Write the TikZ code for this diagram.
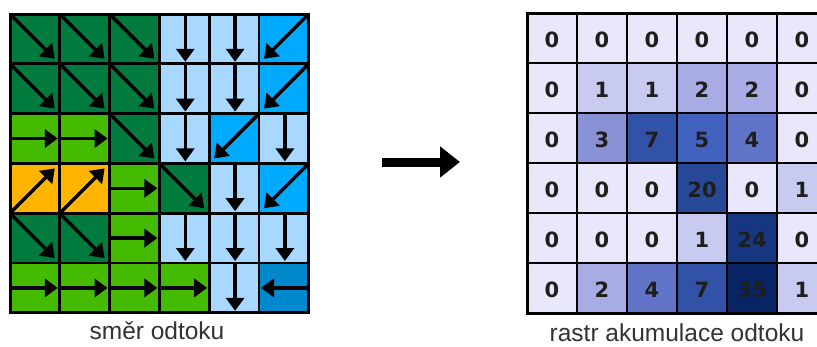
\documentclass[tikz,border=0pt]{standalone}
\usepackage{fontspec}
\usetikzlibrary{arrows.meta}
\newfontfamily\numfont{DejaVu Sans Bold}
\newfontfamily\capfont{Liberation Sans}
% flow direction classes
\definecolor{dg}{RGB}{0,122,61}
\definecolor{lg}{RGB}{68,187,0}
\definecolor{org}{RGB}{255,180,0}
\definecolor{lb}{RGB}{168,216,255}
\definecolor{mb}{RGB}{0,170,255}
\definecolor{db}{RGB}{0,136,204}
% accumulation shades
\definecolor{v0}{RGB}{232,232,250}
\definecolor{v1}{RGB}{200,202,240}
\definecolor{v2}{RGB}{168,172,228}
\definecolor{v3}{RGB}{138,146,214}
\definecolor{v4}{RGB}{98,116,200}
\definecolor{v5}{RGB}{66,98,192}
\definecolor{v7}{RGB}{50,82,168}
\definecolor{v20}{RGB}{40,72,152}
\definecolor{v24}{RGB}{22,54,128}
\definecolor{v35}{RGB}{8,36,100}
\definecolor{captext}{RGB}{52,50,50}
\definecolor{numtext}{RGB}{30,30,30}
% arrows drawn inside a flow-direction cell at (\xa,\ya)
\newcommand\flowSE{\draw[flow] (\xa+1,\ya+1) -- (\xa+\s-5,\ya+\s-5);}
\newcommand\flowSW{\draw[flow] (\xa+\s-1,\ya+1) -- (\xa+5,\ya+\s-5);}
\newcommand\flowNE{\draw[flow] (\xa+1,\ya+\s-1) -- (\xa+\s-5,\ya+5);}
\newcommand\flowS{\draw[flow] (\xa+\s/2+1,\ya) -- (\xa+\s/2+1,\ya+\s-2);}
\newcommand\flowE{\draw[flow] (\xa,\ya+\s/2) -- (\xa+\s-2,\ya+\s/2);}
\newcommand\flowW{\draw[flow] (\xa+\s,\ya+\s/2) -- (\xa+2,\ya+\s/2);}
\begin{document}
\begin{tikzpicture}[x=1pt,y=-1pt,
  cellL/.style={draw=black,line width=2.8pt,minimum size=49.8pt,inner sep=0pt,outer sep=0pt},
  cellR/.style={draw=black,line width=2.8pt,minimum size=50pt,inner sep=0pt,outer sep=0pt},
  numlabel/.style={font=\numfont\fontsize{21}{21}\selectfont,text=numtext,inner sep=0pt},
  flow/.style={line width=3.4pt,-{Triangle[length=13pt,width=18pt]}},
  bigarrow/.style={line width=9pt,-{Triangle[length=20pt,width=30pt]}},
  captionlabel/.style={font=\capfont\fontsize{24.5}{26}\selectfont,text=captext,inner sep=0pt}]
\useasboundingbox (0,0) rectangle (817,346);
\fill[white] (0,0) rectangle (817,346);

% flow direction raster
\def\s{49.8}
\foreach \rowlist [count=\r from 0] in {
  {dg/SE,dg/SE,dg/SE,lb/S,lb/S,mb/SW},
  {dg/SE,dg/SE,dg/SE,lb/S,lb/S,mb/SW},
  {lg/E,lg/E,dg/SE,lb/S,mb/SW,lb/S},
  {org/NE,org/NE,lg/E,dg/SE,lb/S,mb/SW},
  {dg/SE,dg/SE,lg/E,lb/S,lb/S,lb/S},
  {lg/E,lg/E,lg/E,lg/E,lb/S,db/W}}{
  \foreach \cl/\dir [count=\c from 0] in \rowlist {
    \pgfmathsetmacro\xa{10+\c*\s}
    \pgfmathsetmacro\ya{14+\r*\s}
    \node[cellL,fill=\cl] (L-\r-\c) at (\xa+\s/2,\ya+\s/2) {};
    \csname flow\dir\endcsname
  }
}
\draw[line width=3pt] (10,14) rectangle (10+6*\s,14+6*\s);

% accumulation raster
\begin{scope}
\clip (0,0) rectangle (817,346);
\foreach \rowlist [count=\r from 0] in {
  {0,0,0,0,0,0},
  {0,1,1,2,2,0},
  {0,3,7,5,4,0},
  {0,0,0,20,0,1},
  {0,0,0,1,24,0},
  {0,2,4,7,35,1}}{
  \foreach \v [count=\c from 0] in \rowlist {
    \node[cellR,fill=v\v] (R-\r-\c) at (527+\c*50+25,13+\r*50+25) {};
    \node[numlabel] (T-\r-\c) at (527+\c*50+25,13+\r*50+27) {\v};
  }
}
\draw[line width=3pt] (527,13) rectangle (827,313);
\end{scope}

% arrow between the rasters
\coordinate (from) at (382,162);
\coordinate (to) at (460,162);
\draw[bigarrow] (from) -- (to);

% captions
\node[captionlabel] (capL) at (157,331) {směr odtoku};
\node[captionlabel] (capR) at (677,333) {rastr akumulace odtoku};
\end{tikzpicture}
\end{document}
